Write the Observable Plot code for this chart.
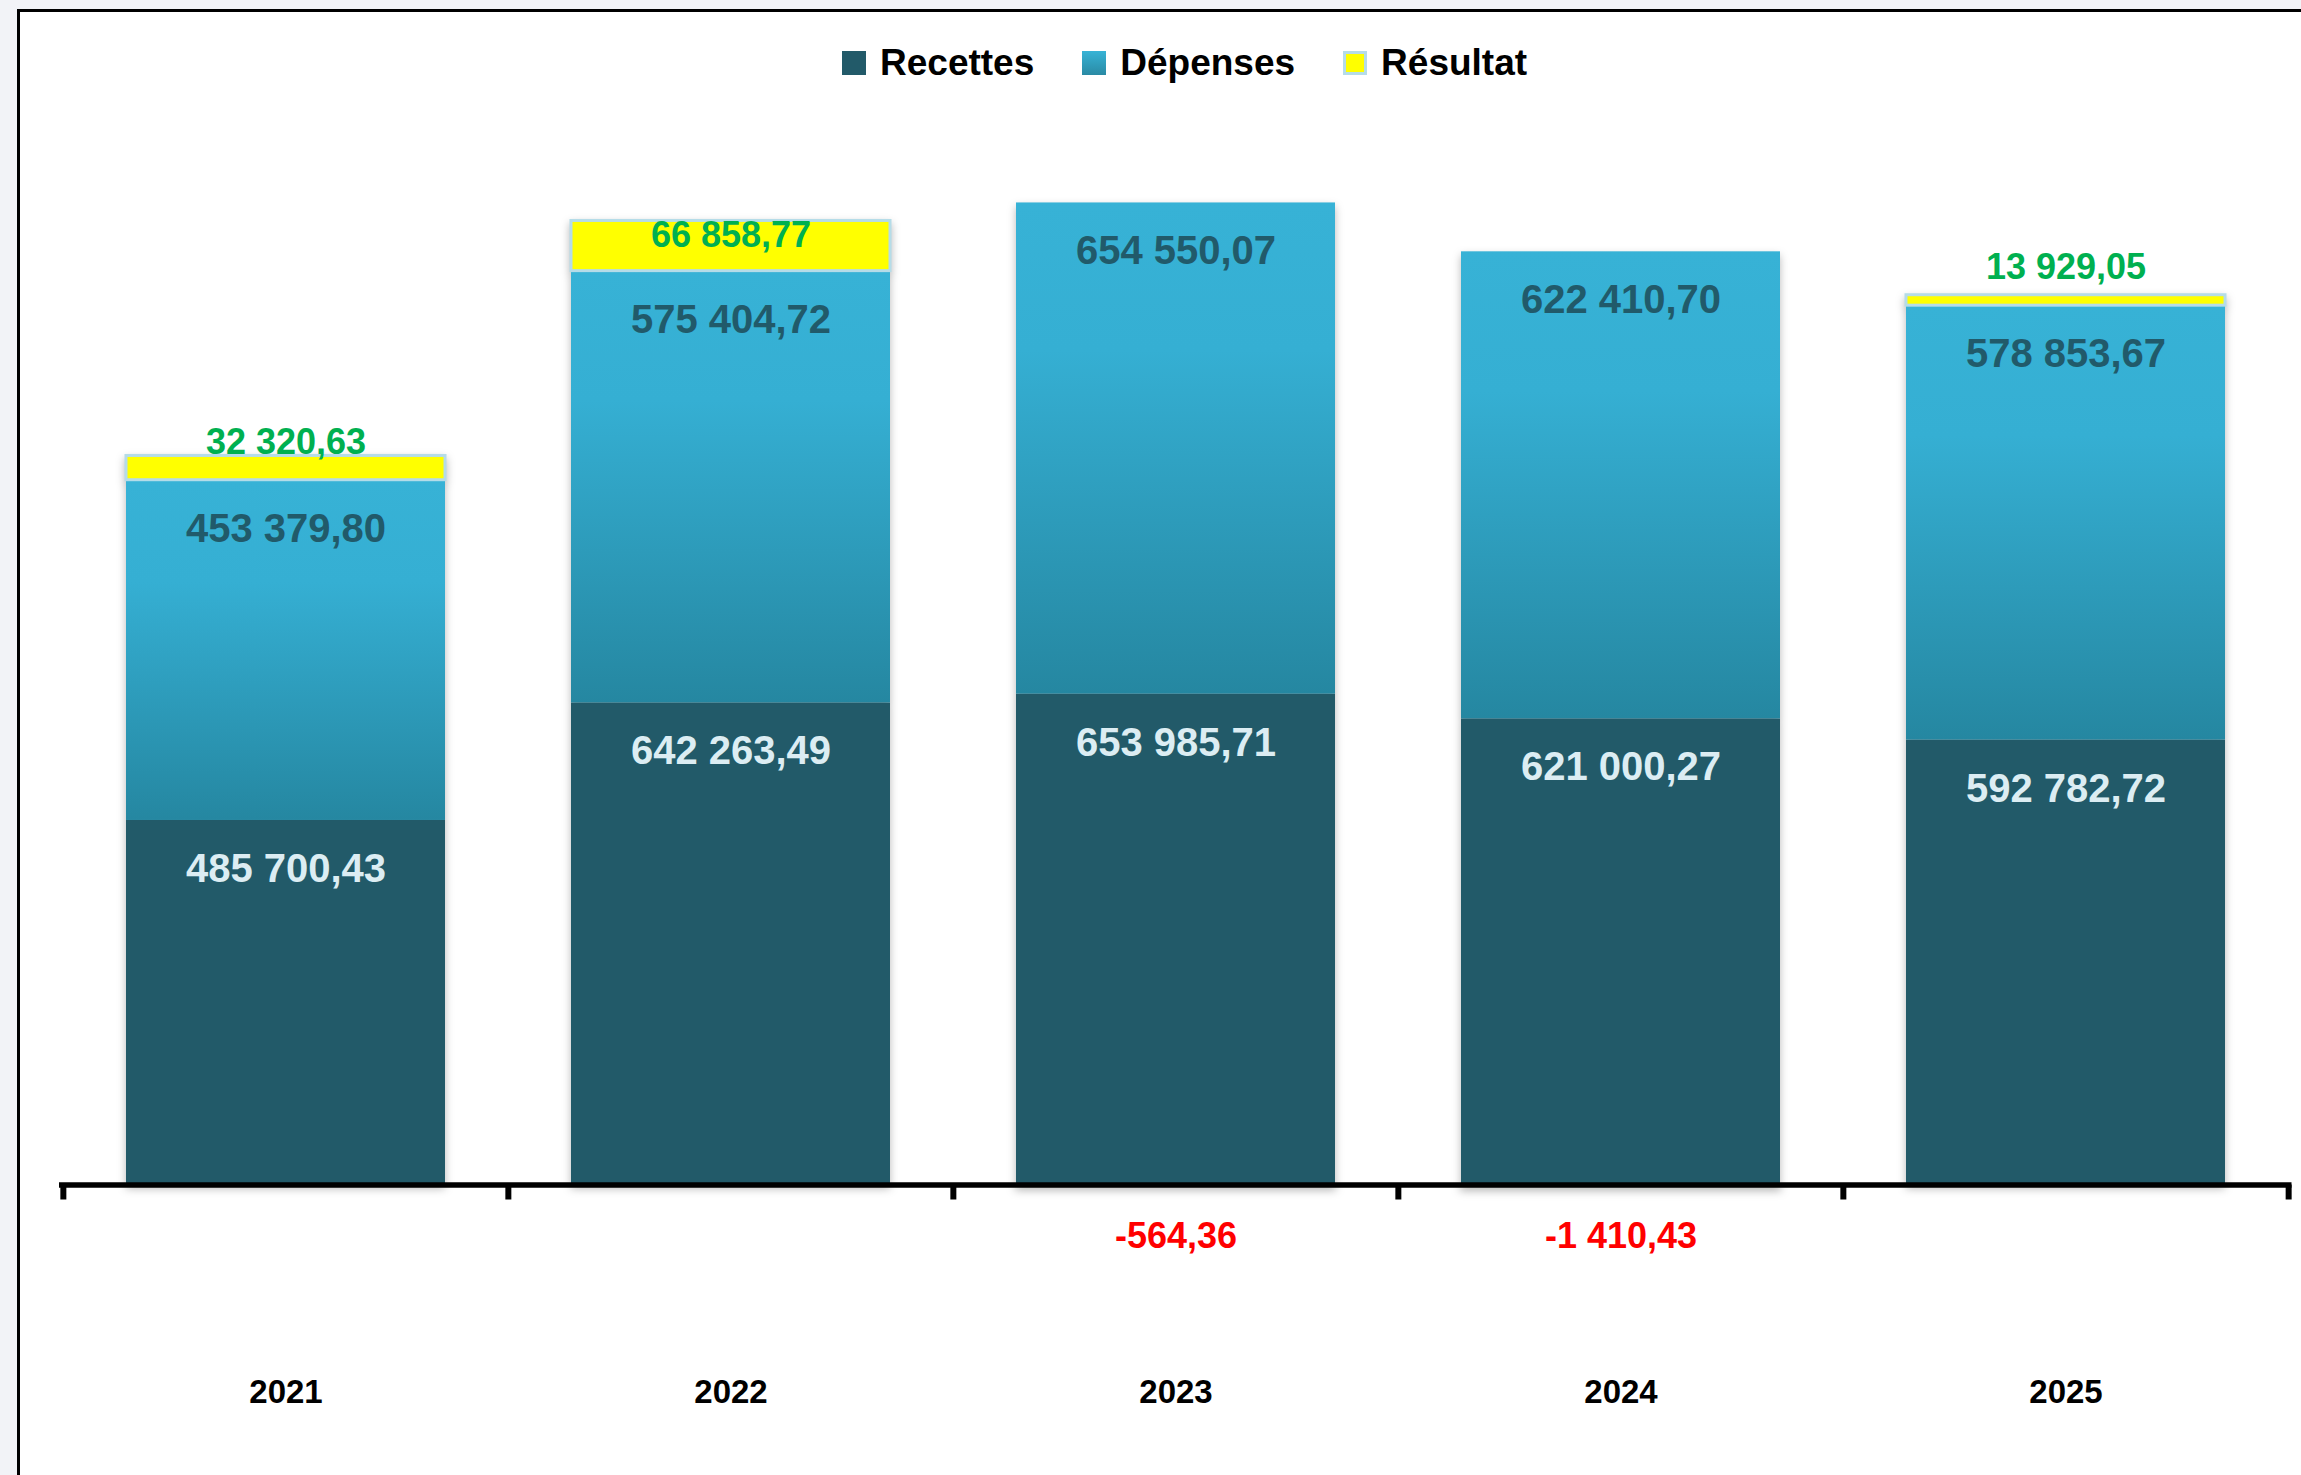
<!DOCTYPE html>
<html>
<head>
<meta charset="utf-8">
<script src="https://cdn.jsdelivr.net/npm/d3@7"></script>
<script src="https://cdn.jsdelivr.net/npm/@observablehq/plot@0.6"></script>
<style>
  html, body { margin: 0; padding: 0; }
  body { width: 2301px; height: 1475px; background: #f2f3f7; overflow: hidden; font-family: "Liberation Sans", Arial, sans-serif; }
  #frame { position: absolute; left: 17px; top: 9px; width: 2281px; height: 1463px; border-left: 3px solid #000; border-top: 3px solid #000; background: #fff; }
  #legend { position: relative; height: 100px; }
  #legend .items { position: absolute; left: 822px; top: 32px; height: 37px; display: flex; align-items: center; }
  #legend .item { display: flex; align-items: center; margin-right: 48px; }
  #legend .sw { width: 24px; height: 24px; margin-right: 14px; box-sizing: border-box; }
  #legend .lab { font-size: 37px; font-weight: bold; line-height: 37px; color: #000; white-space: nowrap; }
  #chart svg { display: block; }
</style>
</head>
<body>
<div id="frame">
  <div id="legend"><div class="items"></div></div>
  <div id="chart"></div>
</div>
<script>
// ---- Data ----
const years = ["2021", "2022", "2023", "2024", "2025"];
const series = ["Recettes", "Dépenses", "Résultat"];
const recettes = [485700.43, 642263.49, 653985.71, 621000.27, 592782.72];
const depenses = [453379.80, 575404.72, 654550.07, 622410.70, 578853.67];
const resultat = [32320.63, 66858.77, -564.36, -1410.43, 13929.05];

// ---- Styles ----
const seriesFill = {"Recettes": "#225a69", "Dépenses": "url(#depGrad)", "Résultat": "#ffff00"};
const legendFill = {"Recettes": "#225a69", "Dépenses": "linear-gradient(#37b3d6, #2a8aa4)", "Résultat": "#ffff00"};
const resStroke = "#b5dce8";

const locale = d3.formatLocale({decimal: ",", thousands: " ", grouping: [3], currency: ["", ""], minus: "-"});
const fmt = locale.format(",.2f");

// ---- Layout ----
const W = 2281, H = 1363;
const mL = 42, mR = 12.5, mT = 21.8, mB = 290.5;
const yMax = 1400000;
const pxPerUnit = (H - mT - mB) / yMax;
const step = (W - mL - mR) / years.length;

// ---- Legend ----
const items = document.querySelector("#legend .items");
series.forEach(s => {
  const it = document.createElement("div");
  it.className = "item";
  const sw = document.createElement("div");
  sw.className = "sw";
  sw.style.background = legendFill[s];
  if (s === "Résultat") sw.style.border = `3px solid ${resStroke}`;
  const lab = document.createElement("span");
  lab.className = "lab";
  lab.textContent = s;
  it.append(sw, lab);
  items.append(it);
});

// ---- Tables ----
const long = years.flatMap((year, i) => [
  {year, series: series[0], value: recettes[i]},
  {year, series: series[1], value: depenses[i]},
  {year, series: series[2], value: resultat[i]}
]);
const rows = years.map((year, i) => ({year, rec: recettes[i], dep: depenses[i], res: resultat[i]}));
const fits = d => d.res * pxPerUnit >= 45;

const bold = {fontWeight: "bold", lineAnchor: "top", textAnchor: "middle"};

const chart = Plot.plot({
  width: W,
  height: H,
  marginLeft: mL,
  marginRight: mR,
  marginTop: mT,
  marginBottom: mB,
  style: {fontFamily: "'Liberation Sans', Arial, sans-serif", background: "transparent", overflow: "visible"},
  x: {domain: years, paddingInner: 0.2836, paddingOuter: 0.1418},
  y: {domain: [0, yMax], axis: null},
  color: {type: "identity"},
  marks: [
    Plot.barY(long, Plot.stackY({
      x: "year", y: "value", z: "series",
      fill: d => seriesFill[d.series],
      stroke: d => d.series === "Résultat" ? resStroke : "none",
      strokeWidth: 3
    })),
    Plot.ruleY([0], {stroke: "#000", strokeWidth: 5.5, insetLeft: -3, insetRight: -3}),
    Plot.ruleX(years, {x: d => d, y1: d => 0, y2: d => 0, dx: -step / 2, stroke: "#000", strokeWidth: 6, insetBottom: -15}),
    Plot.ruleX(years.slice(-1), {x: d => d, y1: d => 0, y2: d => 0, dx: step / 2, stroke: "#000", strokeWidth: 6, insetBottom: -15}),
    Plot.axisX({tickSize: 0, tickPadding: 195, fontSize: 33, fontWeight: "bold", color: "#000", label: null}),
    // Recettes labels
    Plot.text(rows, {x: "year", y: d => d.rec, text: d => fmt(d.rec), dy: 33, fill: "#dcedf3", fontSize: 40, ...bold}),
    // Dépenses labels
    Plot.text(rows, {x: "year", y: d => d.rec + d.dep, text: d => fmt(d.dep), dy: 33, fill: "#215a6a", fontSize: 40, ...bold}),
    // Résultat labels (positive, inside end)
    Plot.text(rows, {filter: d => d.res > 0 && fits(d), x: "year", y: d => d.rec + d.dep + d.res, text: d => fmt(d.res), dy: 0, fill: "#00b050", fontSize: 36, ...bold}),
    // Résultat labels (positive, too thin -> above)
    Plot.text(rows, {filter: d => d.res > 0 && !fits(d), x: "year", y: d => d.rec + d.dep, text: d => fmt(d.res), dy: -52, fill: "#00b050", fontSize: 36, ...bold}),
    // Résultat labels (negative, below axis)
    Plot.text(rows, {filter: d => d.res < 0, x: "year", y: d => 0, text: d => fmt(d.res), dy: 37, fill: "#ff0000", fontSize: 36, ...bold})
  ]
});

// gradient definition for Dépenses
const ns = "http://www.w3.org/2000/svg";
const defs = document.createElementNS(ns, "defs");
defs.innerHTML = `<linearGradient id="depGrad" x1="0" y1="0" x2="0" y2="1">
  <stop offset="0" stop-color="#37b2d6"/>
  <stop offset="0.3" stop-color="#35afd3"/>
  <stop offset="1" stop-color="#2587a1"/>
</linearGradient>`;
chart.insertBefore(defs, chart.firstChild);
const barG = chart.querySelector('g[aria-label="bar"]');
if (barG) barG.style.filter = "drop-shadow(0px 4px 4px rgba(0,0,0,0.28))";

document.getElementById("chart").append(chart);
</script>
</body>
</html>
